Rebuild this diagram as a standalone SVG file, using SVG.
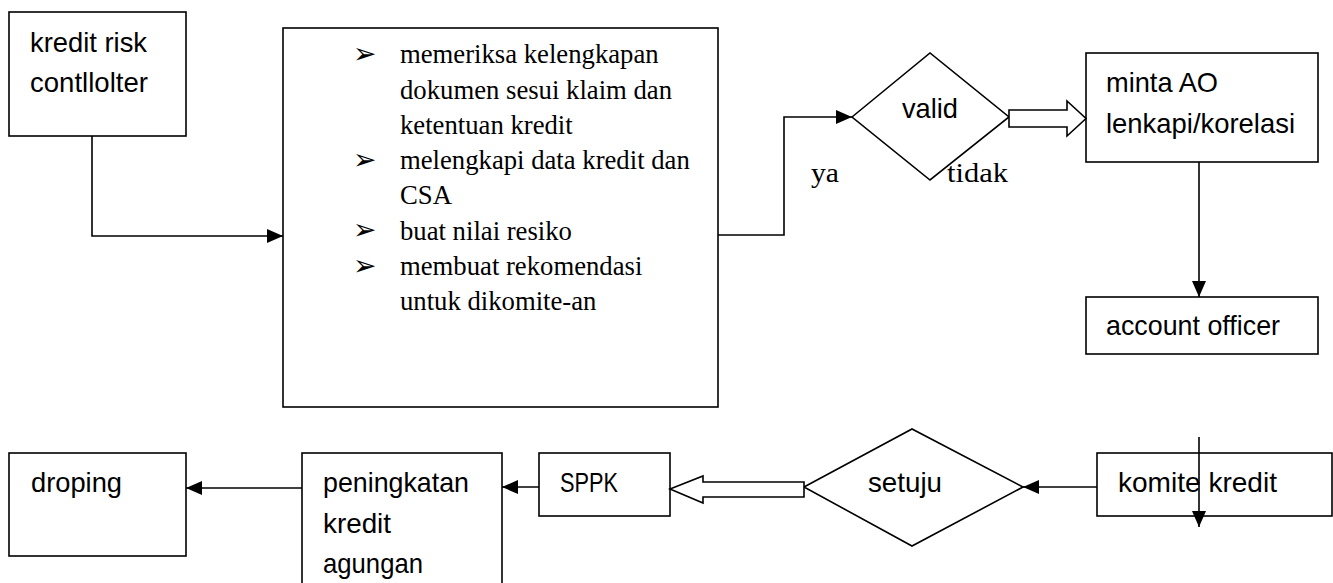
<svg xmlns="http://www.w3.org/2000/svg" width="1333" height="583" viewBox="0 0 1333 583">
<style>
.box{fill:#fff;stroke:#000;stroke-width:1.6}
.dia{fill:#fff;stroke:#000;stroke-width:1.6}
.ln{fill:none;stroke:#000;stroke-width:1.6}
.blk{fill:#fff;stroke:#000;stroke-width:1.6}
.s{font-family:"Liberation Sans",Arial,sans-serif;font-size:28px;fill:#000}
.t{font-family:"Liberation Serif","Times New Roman",serif;font-size:26.7px;fill:#000}
.b{font-family:"DejaVu Sans",sans-serif;font-size:28px;fill:#000}
</style>
<defs>
<marker id="ah" viewBox="0 0 16 14" refX="16" refY="7" markerWidth="16" markerHeight="14" markerUnits="userSpaceOnUse" orient="auto">
<path d="M0,0 L16,7 L0,14 z" fill="#000"/>
</marker>
</defs>
<rect width="1333" height="583" fill="#fff"/>
<g id="kredit-risk">
<rect class="box" x="9" y="12" width="177" height="124"/>
<text class="s" x="30" y="52" textLength="117" lengthAdjust="spacingAndGlyphs">kredit risk</text>
<text class="s" x="30" y="92" textLength="118" lengthAdjust="spacingAndGlyphs">contllolter</text>
</g>
<g id="proses">
<rect class="box" x="283" y="28" width="435" height="379"/>
<text class="b" x="353" y="63">➢</text>
<text class="t" x="400" y="63">memeriksa kelengkapan</text>
<text class="t" x="400" y="98.5">dokumen sesui klaim dan</text>
<text class="t" x="400" y="134">ketentuan kredit</text>
<text class="b" x="353" y="169">➢</text>
<text class="t" x="400" y="169">melengkapi data kredit dan</text>
<text class="t" x="400" y="204">CSA</text>
<text class="b" x="353" y="239">➢</text>
<text class="t" x="400" y="239.5">buat nilai resiko</text>
<text class="b" x="353" y="275">➢</text>
<text class="t" x="400" y="275">membuat rekomendasi</text>
<text class="t" x="400" y="310">untuk dikomite-an</text>
</g>
<g id="valid">
<polygon class="dia" points="852,117 930,53 1009,117 930,180"/>
<text class="s" x="902" y="118" textLength="56" lengthAdjust="spacingAndGlyphs">valid</text>
</g>
<text class="t" x="811" y="182" font-size="28" textLength="28" lengthAdjust="spacingAndGlyphs">ya</text>
<text class="t" x="947" y="182" font-size="28" textLength="61" lengthAdjust="spacingAndGlyphs">tidak</text>
<g id="minta-ao">
<rect class="box" x="1086" y="53" width="232" height="109"/>
<text class="s" x="1106" y="92" textLength="112" lengthAdjust="spacingAndGlyphs">minta AO</text>
<text class="s" x="1106" y="133" textLength="189" lengthAdjust="spacingAndGlyphs">lenkapi/korelasi</text>
</g>
<g id="account-officer">
<rect class="box" x="1086" y="297" width="232" height="57"/>
<text class="s" x="1106" y="335" textLength="174" lengthAdjust="spacingAndGlyphs">account officer</text>
</g>
<g id="komite-kredit">
<rect class="box" x="1097" y="453" width="235" height="63"/>
<text class="s" x="1118" y="492" textLength="159" lengthAdjust="spacingAndGlyphs">komite kredit</text>
</g>
<g id="setuju">
<polygon class="dia" points="804,487 912,429 1023,487 912,546"/>
<text class="s" x="868" y="492" textLength="74" lengthAdjust="spacingAndGlyphs">setuju</text>
</g>
<g id="sppk">
<rect class="box" x="539" y="453" width="131" height="63"/>
<text class="s" x="560" y="492" textLength="58" lengthAdjust="spacingAndGlyphs">SPPK</text>
</g>
<g id="peningkatan">
<rect class="box" x="302" y="453" width="200" height="140"/>
<text class="s" x="323" y="492" textLength="146" lengthAdjust="spacingAndGlyphs">peningkatan</text>
<text class="s" x="323" y="533" textLength="68" lengthAdjust="spacingAndGlyphs">kredit</text>
<text class="s" x="323" y="573" textLength="100" lengthAdjust="spacingAndGlyphs">agungan</text>
</g>
<g id="droping">
<rect class="box" x="9" y="453" width="177" height="103"/>
<text class="s" x="31" y="492" textLength="91" lengthAdjust="spacingAndGlyphs">droping</text>
</g>
<g id="connectors">
<polyline class="ln" points="92,136 92,236 283,236" marker-end="url(#ah)"/>
<polyline class="ln" points="718,235 784,235 784,117 852,117" marker-end="url(#ah)"/>
<polygon class="blk" points="1009,110 1067,110 1067,101 1086,118.5 1067,136 1067,127 1009,127"/>
<line class="ln" x1="1199" y1="162" x2="1199" y2="297" marker-end="url(#ah)"/>
<line class="ln" x1="1097" y1="487" x2="1023" y2="487" marker-end="url(#ah)"/>
<polygon class="blk" points="804,482 703,482 703,476 670,489 703,503 703,497 804,497"/>
<line class="ln" x1="539" y1="487" x2="502" y2="487" marker-end="url(#ah)"/>
<line class="ln" x1="302" y1="488" x2="186" y2="488" marker-end="url(#ah)"/>
<line class="ln" x1="1199" y1="437" x2="1199" y2="527" marker-end="url(#ah)"/>
</g>
</svg>
